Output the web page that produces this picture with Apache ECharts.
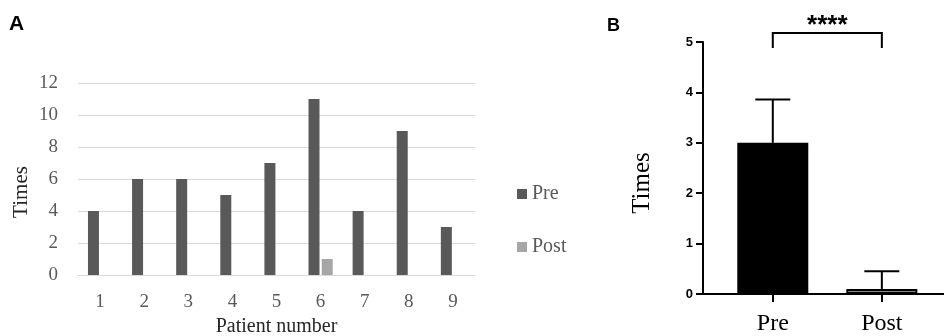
<!DOCTYPE html>
<html>
<head>
<meta charset="utf-8">
<script src="https://cdn.jsdelivr.net/npm/echarts@6/dist/echarts.min.js"></script>
<style>html,body{margin:0;padding:0;background:#fff}#c{width:944px;height:336px}</style>
</head>
<body>
<div id="c"></div>
<script>
// Panel A data
const patients = ['1','2','3','4','5','6','7','8','9'];
const preTimes = [4, 6, 6, 5, 7, 11, 4, 9, 3];
const postTimes = [0, 0, 0, 0, 0, 1, 0, 0, 0];
const yTicksA = { min: 0, max: 12, interval: 2 };

// Panel B data
const groups = ['Pre', 'Post'];
const groupMeans = [3.0, 0.1];
const groupUpper = [3.86, 0.45];
const yTicksB = { min: 0, max: 5, interval: 1 };
const sigLabel = '****';
const bracketLow = 4.88;
const bracketHigh = 5.18;

const serif = '"Liberation Serif", "Times New Roman", serif';
const sans = '"Liberation Sans", Arial, sans-serif';

const chart = echarts.init(document.getElementById('c'), null, { renderer: 'canvas' });

const barDataB = groups.map((g, i) => ({
  value: [i + 1, groupMeans[i]],
  itemStyle: { color: i === 0 ? '#000000' : '#8c8c8c', borderColor: '#000', borderWidth: 2 }
}));
const errDataB = groups.map((g, i) => [i + 1, groupMeans[i], groupUpper[i]]);

chart.setOption({
  animation: false,
  backgroundColor: '#fff',
  title: [
    { text: 'A', left: 9, top: 14, padding: 0, textStyle: { fontFamily: sans, fontWeight: 'bold', fontSize: 21, color: '#000' } },
    { text: 'B', left: 607, top: 17, padding: 0, textStyle: { fontFamily: sans, fontWeight: 'bold', fontSize: 18, color: '#000' } }
  ],
  legend: {
    data: ['Pre', 'Post'],
    orient: 'vertical',
    left: 517,
    top: 184,
    padding: 0,
    itemWidth: 10,
    itemHeight: 10,
    itemGap: 33,
    icon: 'rect',
    textStyle: { fontFamily: serif, fontSize: 20, color: '#595959' }
  },
  grid: [
    { left: 78, top: 83, width: 397, height: 192, outerBoundsMode: 'none', containLabel: false },
    { left: 703, top: 42, width: 241, height: 252, outerBoundsMode: 'none', containLabel: false }
  ],
  xAxis: [
    {
      gridIndex: 0,
      type: 'category',
      data: patients,
      axisLine: { show: true, lineStyle: { color: '#d9d9d9', width: 1 } },
      axisTick: { show: false },
      axisLabel: { fontFamily: serif, fontSize: 19, color: '#595959', margin: 18 },
      name: 'Patient number',
      nameLocation: 'middle',
      nameGap: 42,
      nameTextStyle: { fontFamily: serif, fontSize: 20, color: '#262626' }
    },
    {
      gridIndex: 1,
      type: 'value',
      min: 0.36,
      max: 2.57,
      splitLine: { show: false },
      axisLine: { show: true, onZero: false, lineStyle: { color: '#000', width: 2 } },
      axisTick: { show: true, customValues: [1, 2], length: 8, lineStyle: { color: '#000', width: 2 } },
      axisLabel: {
        customValues: [1, 2],
        formatter: v => groups[Math.round(v) - 1] || '',
        fontFamily: serif, fontSize: 24, color: '#000', margin: 18
      }
    }
  ],
  yAxis: [
    {
      gridIndex: 0,
      type: 'value',
      min: yTicksA.min, max: yTicksA.max, interval: yTicksA.interval,
      axisLine: { show: false },
      axisTick: { show: false },
      splitLine: { lineStyle: { color: '#d9d9d9', width: 1 } },
      axisLabel: { fontFamily: serif, fontSize: 19, color: '#595959', margin: 20 },
      name: 'Times',
      nameLocation: 'middle',
      nameGap: 46,
      nameTextStyle: { fontFamily: serif, fontSize: 21, color: '#262626', padding: [0, 26, 0, 0] }
    },
    {
      gridIndex: 1,
      type: 'value',
      min: yTicksB.min, max: yTicksB.max, interval: yTicksB.interval,
      axisLine: { show: true, lineStyle: { color: '#000', width: 2 } },
      axisTick: { show: true, length: 7, lineStyle: { color: '#000', width: 2 } },
      splitLine: { show: false },
      axisLabel: { fontFamily: sans, fontSize: 13, fontWeight: 'bold', color: '#000', margin: 10 },
      name: 'Times',
      nameLocation: 'middle',
      nameGap: 48,
      nameTextStyle: { fontFamily: serif, fontSize: 25, color: '#000', padding: [0, 30, 0, 0] }
    }
  ],
  series: [
    {
      name: 'Pre', type: 'bar', xAxisIndex: 0, yAxisIndex: 0,
      data: preTimes, barWidth: 11, barGap: '20%',
      itemStyle: { color: '#595959' }
    },
    {
      name: 'Post', type: 'bar', xAxisIndex: 0, yAxisIndex: 0,
      data: postTimes, barWidth: 11, barGap: '20%',
      itemStyle: { color: '#a6a6a6' }
    },
    {
      name: 'Mean', type: 'bar', xAxisIndex: 1, yAxisIndex: 1,
      data: barDataB, barWidth: 71, z: 3
    },
    {
      name: 'SD', type: 'custom', xAxisIndex: 1, yAxisIndex: 1, z: 2,
      data: errDataB,
      renderItem: function (params, api) {
        const x = api.value(0);
        const base = api.coord([x, api.value(1)]);
        const top = api.coord([x, api.value(2)]);
        const half = 17.5;
        return {
          type: 'group',
          children: [
            { type: 'line', shape: { x1: base[0], y1: base[1], x2: top[0], y2: top[1] }, style: { stroke: '#000', lineWidth: 2 } },
            { type: 'line', shape: { x1: top[0] - half, y1: top[1], x2: top[0] + half, y2: top[1] }, style: { stroke: '#000', lineWidth: 2 } }
          ]
        };
      }
    },
    {
      name: 'Sig', type: 'custom', xAxisIndex: 1, yAxisIndex: 1, clip: false,
      data: [[1, 2, bracketLow, bracketHigh]],
      renderItem: function (params, api) {
        const a = api.coord([api.value(0), api.value(2)]);
        const b = api.coord([api.value(0), api.value(3)]);
        const c = api.coord([api.value(1), api.value(3)]);
        const d = api.coord([api.value(1), api.value(2)]);
        return {
          type: 'group',
          children: [
            { type: 'polyline', shape: { points: [a, b, c, d] }, style: { stroke: '#000', lineWidth: 2, fill: null } },
            { type: 'text', x: (b[0] + c[0]) / 2, y: b[1] - 7, style: { text: sigLabel, textAlign: 'center', textVerticalAlign: 'middle', font: 'bold 26px ' + sans, fill: '#000' } }
          ]
        };
      }
    }
  ]
});
</script>
</body>
</html>
